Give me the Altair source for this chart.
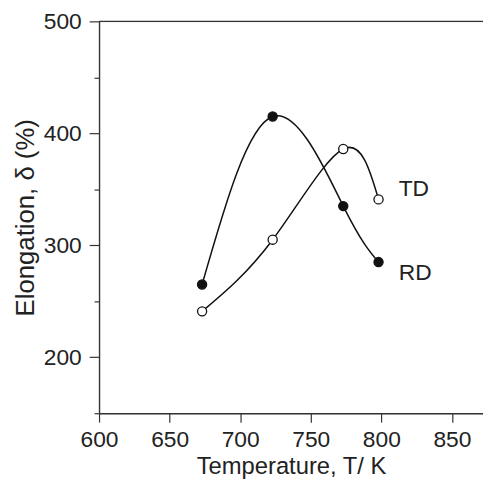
import altair as alt
import pandas as pd

# Data
temps = [673, 723, 773, 798]
rd_elong = [265, 415, 335, 285]
td_elong = [241, 305, 386, 341]

label_names = ["TD", "RD"]
label_x = [823, 824]
label_y = [350, 275]

x_ticks = list(range(600, 875, 25))
y_ticks = list(range(150, 501, 50))

rows = []
for t, v in zip(temps, rd_elong):
    rows.append({"T": t, "E": v, "series": "RD"})
for t, v in zip(temps, td_elong):
    rows.append({"T": t, "E": v, "series": "TD"})
df = pd.DataFrame(rows)

lab_df = pd.DataFrame({"name": label_names, "T": label_x, "E": label_y})
top_df = pd.DataFrame({"E": [500]})

W, H = 388, 396
FONT = "Liberation Sans"
INK = "#222222"

xscale = alt.Scale(domain=[600, 872], nice=False, zero=False)
yscale = alt.Scale(domain=[150, 500], nice=False, zero=False)

xaxis = alt.Axis(
    values=x_ticks,
    labelExpr="datum.value % 50 === 0 ? datum.label : ''",
    tickSize={"condition": {"test": "datum.value % 50 === 0", "value": 9}, "value": 5},
    grid=False,
    title="Temperature, T/ K",
    labelFontSize=23,
    titleFontSize=24,
    labelPadding=7,
    titlePadding=3,
    labelFlush=False,
    labelFont=FONT,
    titleFont=FONT,
    labelColor=INK,
    titleColor=INK,
    titleFontWeight="normal",
    domainColor="#333333",
    tickColor="#333333",
    domainWidth=1.4,
    tickWidth=1.2,
)
yaxis = alt.Axis(
    values=y_ticks,
    labelExpr="datum.value % 100 === 0 ? datum.label : ''",
    tickSize={"condition": {"test": "datum.value % 100 === 0", "value": 10}, "value": 5},
    grid=False,
    title="Elongation, δ (%)",
    labelFontSize=23,
    titleFontSize=26,
    labelPadding=8,
    titlePadding=5,
    labelFlush=False,
    labelFont=FONT,
    titleFont=FONT,
    labelColor=INK,
    titleColor=INK,
    titleFontWeight="normal",
    domainColor="#333333",
    tickColor="#333333",
    domainWidth=1.4,
    tickWidth=1.2,
)

base = alt.Chart(df)

lines = base.mark_line(interpolate="natural", color="#111111", strokeWidth=1.5).encode(
    x=alt.X("T:Q", scale=xscale, axis=xaxis),
    y=alt.Y("E:Q", scale=yscale, axis=yaxis),
    detail="series:N",
)

points = base.mark_point(filled=False, size=85, stroke="#111111", strokeWidth=1.3, opacity=1).encode(
    x=alt.X("T:Q", scale=xscale),
    y=alt.Y("E:Q", scale=yscale),
    fill=alt.Fill("series:N", scale=alt.Scale(domain=["RD", "TD"], range=["#111111", "#ffffff"]), legend=None),
)

labels = alt.Chart(lab_df).mark_text(font=FONT, fontSize=23, color=INK, align="center", baseline="middle").encode(
    x=alt.X("T:Q", scale=xscale),
    y=alt.Y("E:Q", scale=yscale),
    text="name:N",
)

top = alt.Chart(top_df).mark_rule(color="#333333", strokeWidth=1.4).encode(
    y=alt.Y("E:Q", scale=yscale),
    x=alt.value(0),
    x2=alt.value(W),
)

chart = alt.layer(top, lines, points, labels).properties(
    width=W,
    height=H,
    autosize=alt.AutoSizeParams(type="none"),
    padding={"left": 92, "top": 11, "right": 0, "bottom": 67},
).configure_view(stroke=None).configure(background="white")

chart.save("out.html", embed_options={"renderer": "svg", "actions": False})
